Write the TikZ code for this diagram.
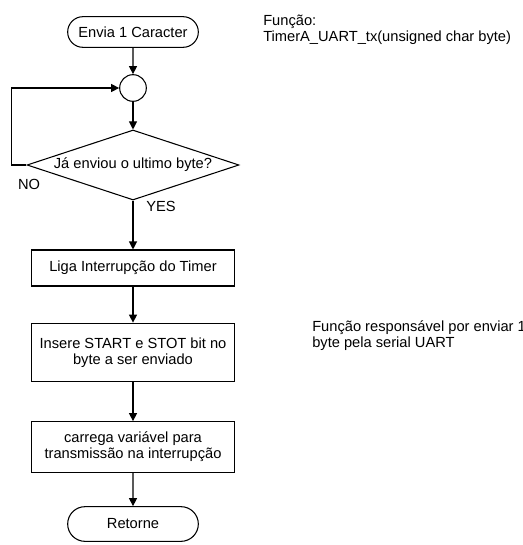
\documentclass[tikz,border=0pt]{standalone}
\usepackage{fontspec}
\setmainfont{Liberation Sans}
\usepackage{tikz}
\usetikzlibrary{shapes.misc, shapes.geometric, arrows.meta}
\newcommand{\widthterm}{100pt}
\newcommand{\widthproc}{152pt}
\tikzset{
    common/.style={draw, line width=0.8pt, align=center, font=\fontsize{11}{12}\selectfont},
    term/.style={common, rounded rectangle, minimum width=\widthterm, minimum height=23pt, inner sep=1pt},
    proc/.style={common, rectangle, minimum width=\widthproc, inner sep=2pt},
    joint/.style={draw, line width=0.8pt, circle, minimum size=20pt, inner sep=0pt},
    decision/.style={common, diamond, aspect=3, inner sep=0pt, minimum width=159pt, minimum height=52.5pt},
    lbl/.style={font=\fontsize{11}{12}\selectfont, inner sep=0pt},
    note/.style={lbl, anchor=west, align=left},
    flow/.style={line width=0.8pt, -{Triangle[length=6pt, width=6pt]}}
}

\begin{document}
\begin{tikzpicture}[x=0.75pt, y=0.75pt]
    \useasboundingbox (0,0) rectangle (522,-545);
    \path
        (133,-32) node[term] (start) {Envia 1 Caracter}
        ++(270:56) node[joint] (join) {}
        ++(270:77) node[decision] (check) {Já enviou o ultimo byte?}
        ++(270:103) node[proc, minimum height=27pt] (ligaTimer) {Liga Interrupção do Timer}
        ++(270:84.5) node[proc, minimum height=44pt] (insereBits) {Insere START e STOT bit no\\byte a ser enviado}
        ++(270:94.5) node[proc, minimum height=38pt] (carregaVar) {carrega variável para\\transmissão na interrupção}
        ++(270:77) node[term, minimum height=26pt] (retorne) {Retorne};

    \node[lbl] (noLbl) at (29,-184) {NO};
    \node[lbl] (yesLbl) at (161,-206) {YES};

    \node[note] (fnName) at (263,-29.5) {Função:\\TimerA\_UART\_tx(unsigned char byte)};
    \node[note] (fnDesc) at (312,-335.5) {Função responsável por enviar 1\\byte pela serial UART};

    \draw[flow] (start) -- (join);
    \draw[flow] (join) -- (check);
    \draw[flow] (check.west) -- ++(-15,0) |- (join.west);
    \draw[flow] (check) -- (ligaTimer);
    \draw[flow] (ligaTimer) -- (insereBits);
    \draw[flow] (insereBits) -- (carregaVar);
    \draw[flow] (carregaVar) -- (retorne);
\end{tikzpicture}
\end{document}
